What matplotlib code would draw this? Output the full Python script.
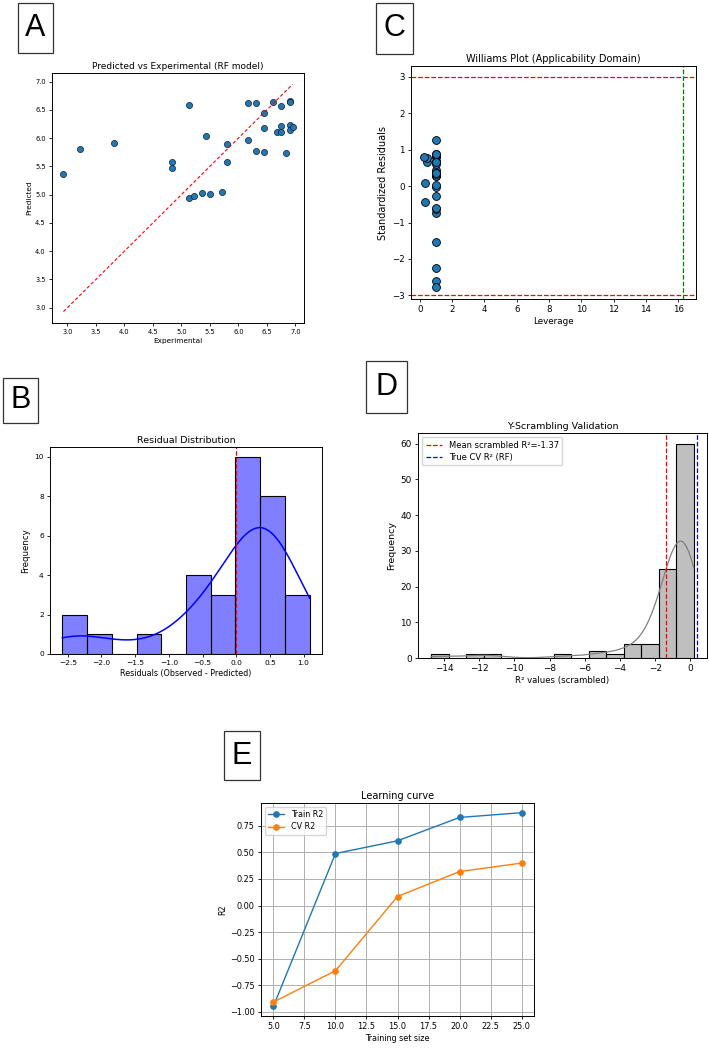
import numpy as np
import matplotlib
matplotlib.use("Agg")
import matplotlib.pyplot as plt
from matplotlib.patches import Rectangle
import seaborn as sns

# ---- A: predicted vs experimental (RF model)
experimental = [2.93, 3.22, 3.82, 4.84, 4.84, 5.13, 5.13, 5.22, 5.36, 5.43, 5.50,
                5.72, 5.80, 5.80, 6.17, 6.17, 6.31, 6.31, 6.45, 6.45, 6.45, 6.61,
                6.68, 6.75, 6.75, 6.75, 6.83, 6.90, 6.90, 6.90, 6.90, 6.95]
predicted = [5.36, 5.80, 5.92, 5.57, 5.47, 6.58, 4.94, 4.98, 5.02, 6.03, 5.01,
             5.04, 5.89, 5.58, 6.62, 5.96, 6.62, 5.77, 6.44, 6.18, 5.76, 6.64,
             6.11, 6.56, 6.21, 6.11, 5.74, 6.65, 6.64, 6.24, 6.15, 6.20]

# ---- C: leverage of each compound (same order as above)
leverage = [1.0, 1.0, 1.0, 1.0, 1.0, 1.0, 1.0, 1.0, 1.0, 1.0, 1.0,
            1.0, 1.0, 1.0, 0.31, 1.0, 1.0, 0.45, 0.29, 1.0, 1.0, 1.0,
            1.0, 1.0, 1.0, 0.45, 1.0, 1.0, 1.0, 0.25, 1.0, 1.0]
h_star = 16.3

# ---- D: y-scrambling histogram
scr_range = (-14.74, 0.20)
scr_counts = [1, 0, 1, 1, 0, 0, 0, 1, 0, 2, 1, 4, 4, 25, 60]
mean_scrambled = -1.37
true_cv_r2 = 0.40

# ---- E: learning curve
train_sizes = [5, 10, 15, 20, 25]
train_r2 = [-0.95, 0.49, 0.61, 0.83, 0.875]
cv_r2 = [-0.91, -0.615, 0.085, 0.32, 0.40]

W, H = 709, 1050
fig = plt.figure(figsize=(W / 100, H / 100), dpi=100)


def px_axes(l, t, r, b):
    return fig.add_axes([l / W, 1 - b / H, (r - l) / W, (b - t) / H])


def panel_label(letter, l, t, r, b):
    fig.patches.append(Rectangle((l / W, 1 - b / H), (r - l) / W, (b - t) / H,
                                 transform=fig.transFigure, facecolor="white",
                                 edgecolor="#333333", linewidth=0.9))
    fig.text((l + r) / 2 / W, 1 - (t + b) / 2 / H, letter, ha="center", va="center",
             fontsize=22, family="Liberation Sans")


def style(ax, tick_fs):
    ax.tick_params(labelsize=tick_fs, width=0.6, length=2.5, pad=2)
    for s in ax.spines.values():
        s.set_linewidth(0.7)


exp_arr = np.array(experimental)
pred_arr = np.array(predicted)
residuals = exp_arr - pred_arr

# A
ax = px_axes(52, 73, 304, 323)
ax.scatter(experimental, predicted, s=20, color="#1f77b4", edgecolor="black", linewidth=0.4)
lo, hi = exp_arr.min(), exp_arr.max()
ax.plot([lo, hi], [lo, hi], "r--", linewidth=0.8, dashes=(3, 2))
ax.set_title("Predicted vs Experimental (RF model)", fontsize=6.5, pad=3)
ax.set_xlabel("Experimental", fontsize=5.3, labelpad=2)
ax.set_ylabel("Predicted", fontsize=5.3, labelpad=2)
style(ax, 4.8)
panel_label("A", 18, 3, 53, 53)

# B
ax = px_axes(50, 447, 322, 654)
sns.histplot(residuals, bins=10, kde=True, color="blue", alpha=0.5,
             edgecolor="black", linewidth=0.8, line_kws={"linewidth": 1.1}, ax=ax)
ax.axvline(0, color="red", linestyle="--", linewidth=0.9)
ax.set_title("Residual Distribution", fontsize=6.8, pad=3)
ax.set_xlabel("Residuals (Observed - Predicted)", fontsize=5.8, labelpad=2)
ax.set_ylabel("Frequency", fontsize=6.2, labelpad=3)
style(ax, 5.4)
panel_label("B", 3, 378, 38, 423)

# C
std_res = (residuals - residuals.mean()) / residuals.std()
ax = px_axes(411, 66, 696, 299)
ax.scatter(leverage, std_res, s=32, color="#1f77b4", edgecolor="black", linewidth=0.6)
ax.axhline(3, color="red", linestyle="--", linewidth=0.9)
ax.axhline(-3, color="red", linestyle="--", linewidth=0.9)
ax.axvline(h_star, color="green", linestyle="--", linewidth=0.9)
ax.set_ylim(-3.1, 3.3)
ax.set_title("Williams Plot (Applicability Domain)", fontsize=7, pad=3)
ax.set_xlabel("Leverage", fontsize=6.3, labelpad=2)
ax.set_ylabel("Standardized Residuals", fontsize=7, labelpad=3)
style(ax, 6.2)
panel_label("C", 376, 3, 413, 54)

# D
n_bins = len(scr_counts)
edges = np.linspace(scr_range[0], scr_range[1], n_bins + 1)
centers = (edges[:-1] + edges[1:]) / 2
scrambled = np.repeat(centers, scr_counts)
ax = px_axes(418, 433, 707, 658)
sns.histplot(scrambled, bins=n_bins, binrange=scr_range, kde=True, color="gray",
             alpha=0.5, edgecolor="black", linewidth=0.8,
             kde_kws={"cut": 1, "clip": scr_range}, line_kws={"linewidth": 0.9}, ax=ax)
ax.axvline(mean_scrambled, color="red", linestyle="--", linewidth=0.9,
           label=f"Mean scrambled R²={mean_scrambled:.2f}")
ax.axvline(true_cv_r2, color="blue", linestyle="--", linewidth=0.9, label="True CV R² (RF)")
ax.legend(loc="upper left", fontsize=6, handlelength=2, borderpad=0.4, labelspacing=0.4)
ax.set_title("Y-Scrambling Validation", fontsize=6.8, pad=3)
ax.set_xlabel("R² values (scrambled)", fontsize=6.1, labelpad=2)
ax.set_ylabel("Frequency", fontsize=6.8, labelpad=3)
style(ax, 6.4)
panel_label("D", 366, 361, 407, 413)

# E
ax = px_axes(261, 803, 534, 1016)
ax.plot(train_sizes, train_r2, "o-", markersize=3.8, linewidth=1.0, label="Train R2")
ax.plot(train_sizes, cv_r2, "o-", markersize=3.8, linewidth=1.0, label="CV R2")
ax.grid(True, linewidth=0.7)
ax.legend(loc="upper left", fontsize=5.8, borderpad=0.4, labelspacing=0.4)
ax.set_title("Learning curve", fontsize=7, pad=3)
ax.set_xlabel("Training set size", fontsize=5.8, labelpad=2)
ax.set_ylabel("R2", fontsize=5.8, labelpad=2)
style(ax, 5.9)
panel_label("E", 224, 731, 260, 780)

fig.savefig("out.png", dpi=100)
